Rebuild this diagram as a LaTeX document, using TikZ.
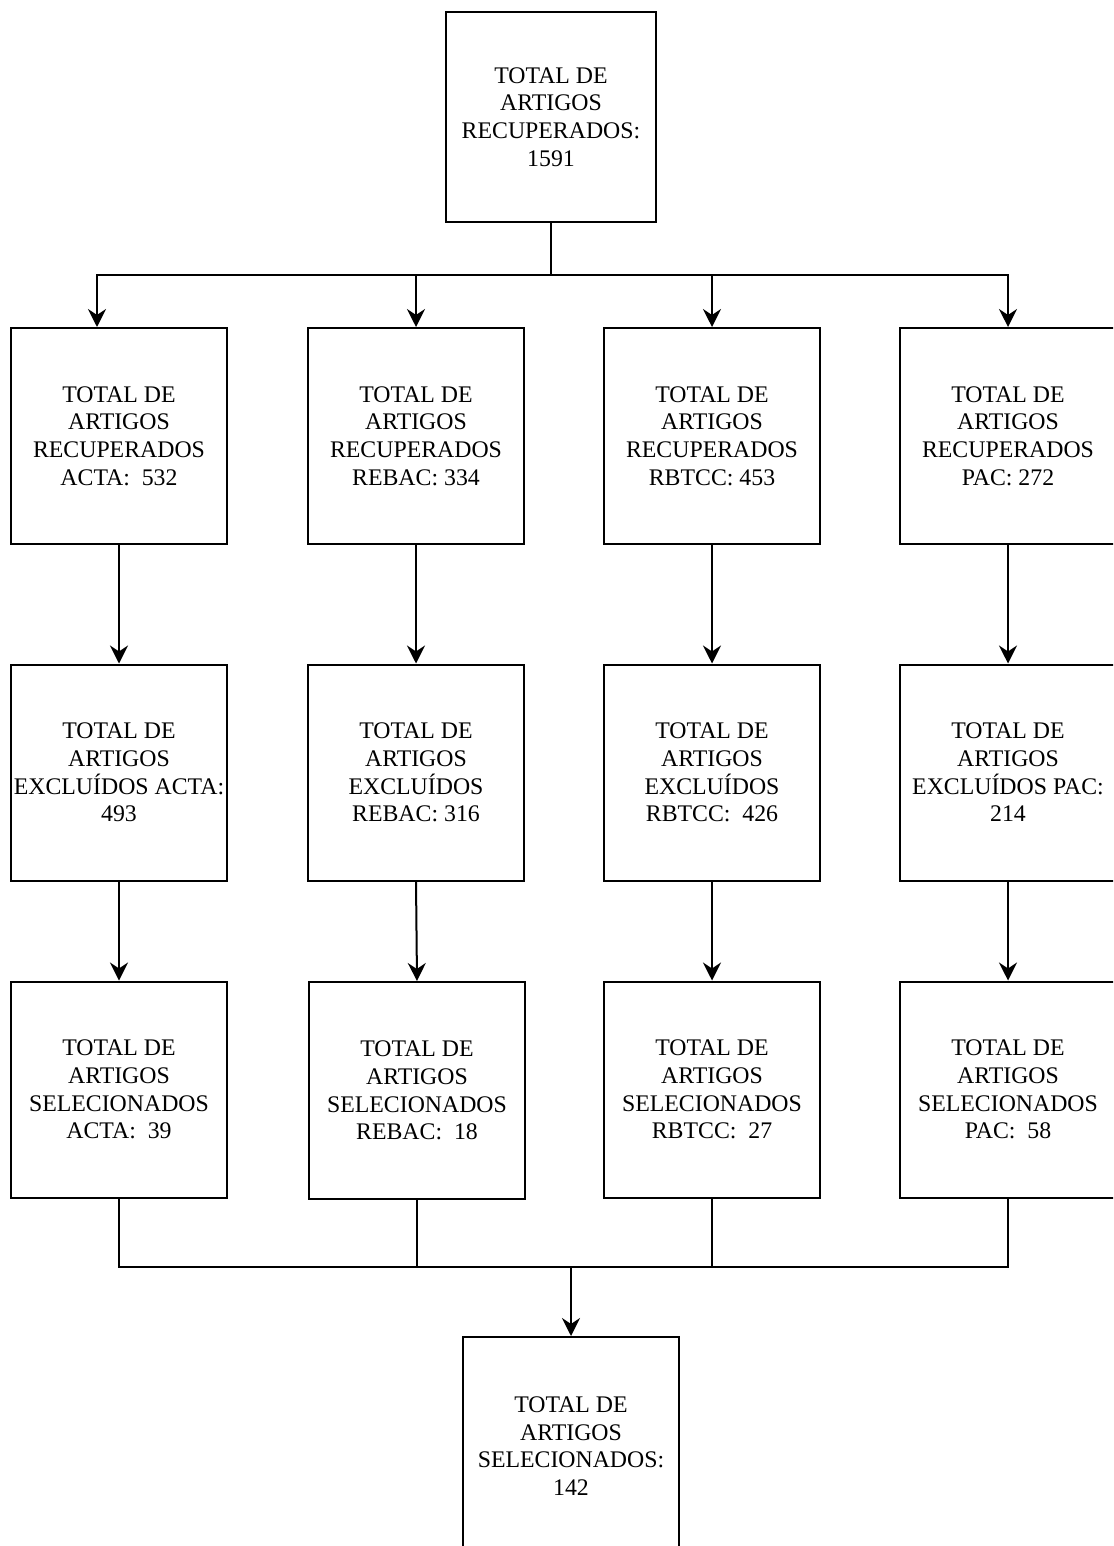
\documentclass[tikz,border=0pt]{standalone}
\usepackage{fontspec}
\setmainfont{Liberation Serif}
\usetikzlibrary{arrows.meta,calc}
\begin{document}
\begin{tikzpicture}[x=0.5pt,y=-0.5pt,
  box/.style={draw=black, line width=1pt, fill=white, rectangle, inner sep=0pt,
    minimum width=108pt, minimum height=108pt, align=center,
    font=\fontsize{11.9pt}{13.85pt}\selectfont},
  topbox/.style={box, minimum width=105pt, minimum height=105pt},
  line/.style={draw=black, line width=1pt},
  arr/.style={line, -{Stealth[length=9pt,width=9pt,inset=3pt]}}]
\useasboundingbox (0,0) rectangle (1113,1546);
\clip (0,0) rectangle (1113,1546);

\node[topbox] (top) at (551,117) {TOTAL DE\\ARTIGOS\\RECUPERADOS:\\1591};

\node[box] (a1) at (119,436) {TOTAL DE\\ARTIGOS\\RECUPERADOS\\ACTA:\ \ 532};
\node[box] (a2) at (416,436) {TOTAL DE\\ARTIGOS\\RECUPERADOS\\REBAC: 334};
\node[box] (a3) at (712,436) {TOTAL DE\\ARTIGOS\\RECUPERADOS\\RBTCC: 453};
\node[box] (a4) at (1008,436) {TOTAL DE\\ARTIGOS\\RECUPERADOS\\PAC: 272};

\node[box] (b1) at (119,772.5) {TOTAL DE\\ARTIGOS\\EXCLUÍDOS ACTA:\\493};
\node[box] (b2) at (416,772.5) {TOTAL DE\\ARTIGOS\\EXCLUÍDOS\\REBAC: 316};
\node[box] (b3) at (712,772.5) {TOTAL DE\\ARTIGOS\\EXCLUÍDOS\\RBTCC:\ \ 426};
\node[box] (b4) at (1008,772.5) {TOTAL DE\\ARTIGOS\\EXCLUÍDOS PAC:\\214};

\node[box] (c1) at (119,1089.5) {TOTAL DE\\ARTIGOS\\SELECIONADOS\\ACTA:\ \ 39};
\node[box, minimum height=108.5pt] (c2) at (417,1090.5) {TOTAL DE\\ARTIGOS\\SELECIONADOS\\REBAC:\ \ 18};
\node[box] (c3) at (712,1089.5) {TOTAL DE\\ARTIGOS\\SELECIONADOS\\RBTCC:\ \ 27};
\node[box] (c4) at (1008,1089.5) {TOTAL DE\\ARTIGOS\\SELECIONADOS\\PAC:\ \ 58};

\node[box, minimum height=109pt] (bot) at (571,1446) {TOTAL DE\\ARTIGOS\\SELECIONADOS:\\142};

% split from top
\coordinate (s) at (551,275);
\draw[line] (top.south) -- (s);
\draw[arr] (s) -| ($(a1.north)+(-22,0)$);
\draw[arr] (s) -| (a2.north);
\draw[arr] (s) -| (a3.north);
\draw[arr] (s) -| (a4.north);

% rows
\foreach \i in {1,2,3,4}{
  \draw[arr] (a\i.south) -- (b\i.north);
  \draw[arr] (b\i.south) -- (c\i.north);
}

% join
\coordinate (j) at (571,1267);
\foreach \i in {1,2,3,4}{
  \draw[line] (c\i.south) |- (j);
}
\draw[arr, line width=1.2pt] (j) -- (bot.north);
\end{tikzpicture}
\end{document}
